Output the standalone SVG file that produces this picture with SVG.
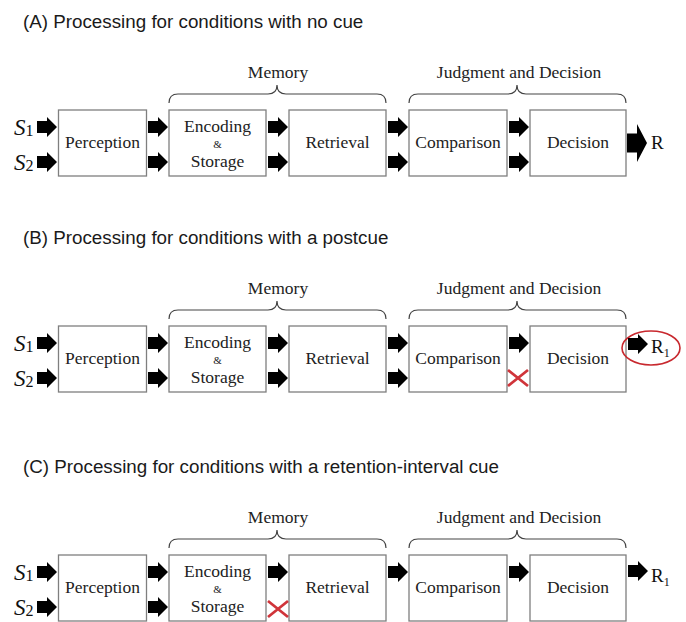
<svg xmlns="http://www.w3.org/2000/svg" width="686" height="622" viewBox="0 0 686 622">
<style>
.title{font-family:"Liberation Sans",Arial,sans-serif;font-size:18.8px;fill:#1a1a1a}
.lbl{font-family:"Liberation Serif","Times New Roman",serif;font-size:17.5px;fill:#222;text-anchor:middle}
.amp{font-family:"Liberation Serif","Times New Roman",serif;font-size:11px;fill:#222;text-anchor:middle}
.grp{font-family:"Liberation Serif","Times New Roman",serif;font-size:17.5px;fill:#222;text-anchor:middle}
.box{fill:#fff;stroke:#7f7f7f;stroke-width:1.3}
.brace{fill:none;stroke:#444;stroke-width:1.2}
.s{font-family:"Liberation Serif","Times New Roman",serif;font-size:23px;font-style:italic;fill:#111}
.sub{font-style:normal;font-size:16px}
.r{font-family:"Liberation Serif","Times New Roman",serif;font-size:19px;fill:#111}
.rsub{font-size:12px}
.x{stroke:#d0343a;stroke-width:2.8;fill:none}
.ring{fill:none;stroke:#c8282e;stroke-width:1.6}
</style>
<defs>
<path id="arr" d="M0,-6 H10 V-10 L20,0 L10,10 V6 H0 Z" fill="#000"/>
<path id="bigarr" d="M0,-9.5 H10 V-19 L20,0 L10,19 V9.5 H0 Z" fill="#000"/>
<path id="xmark" d="M0,0 L20,16 M20,0 L0,16"/>
</defs>

<!-- ===== Section A ===== -->
<text class="title" x="23" y="28">(A) Processing for conditions with no cue</text>
<g id="A-memory">
<path class="brace" d="M169,103 Q169,94 178,94 L268,94 Q277,94 277,85 Q277,94 286,94 L377,94 Q386,94 386,103"/>
<text class="grp" x="278" y="78">Memory</text>
</g>
<g id="A-judgment">
<path class="brace" d="M409,103 Q409,94 418,94 L508,94 Q517,94 517,85 Q517,94 526,94 L617,94 Q626,94 626,103"/>
<text class="grp" x="519" y="78">Judgment and Decision</text>
</g>
<g id="A-s1"><text class="s" x="14" y="135">S<tspan class="sub" dy="1">1</tspan></text></g>
<g id="A-s2"><text class="s" x="14" y="170">S<tspan class="sub" dy="1">2</tspan></text></g>
<g id="A-perception"><rect class="box" x="58.5" y="110" width="88" height="66"/><text class="lbl" x="102.5" y="148">Perception</text></g>
<g id="A-encoding"><rect class="box" x="169" y="110" width="97" height="66"/><text class="lbl" x="217.5" y="132">Encoding</text><text class="amp" x="217.5" y="148">&amp;</text><text class="lbl" x="217.5" y="167">Storage</text></g>
<g id="A-retrieval"><rect class="box" x="289" y="110" width="97" height="66"/><text class="lbl" x="337.5" y="148">Retrieval</text></g>
<g id="A-comparison"><rect class="box" x="409" y="110" width="98" height="66"/><text class="lbl" x="458" y="148">Comparison</text></g>
<g id="A-decision"><rect class="box" x="530" y="110" width="96" height="66"/><text class="lbl" x="578" y="148">Decision</text></g>
<g id="A-r"><text class="r" x="651" y="149">R</text></g>
<g id="A-connectors">
<use href="#arr" x="37" y="127"/><use href="#arr" x="37" y="162"/>
<use href="#arr" x="148" y="127"/><use href="#arr" x="148" y="162"/>
<use href="#arr" x="268" y="127"/><use href="#arr" x="268" y="162"/>
<use href="#arr" x="388" y="127"/><use href="#arr" x="388" y="162"/>
<use href="#arr" x="509" y="127"/><use href="#arr" x="509" y="162"/>
<use href="#bigarr" x="627" y="143"/>
</g>

<!-- ===== Section B ===== -->
<text class="title" x="23" y="244">(B) Processing for conditions with a postcue</text>
<g id="B-memory">
<path class="brace" d="M169,319 Q169,310 178,310 L268,310 Q277,310 277,301 Q277,310 286,310 L377,310 Q386,310 386,319"/>
<text class="grp" x="278" y="294">Memory</text>
</g>
<g id="B-judgment">
<path class="brace" d="M409,319 Q409,310 418,310 L508,310 Q517,310 517,301 Q517,310 526,310 L617,310 Q626,310 626,319"/>
<text class="grp" x="519" y="294">Judgment and Decision</text>
</g>
<g id="B-s1"><text class="s" x="14" y="351">S<tspan class="sub" dy="1">1</tspan></text></g>
<g id="B-s2"><text class="s" x="14" y="386">S<tspan class="sub" dy="1">2</tspan></text></g>
<g id="B-perception"><rect class="box" x="58.5" y="326" width="88" height="66"/><text class="lbl" x="102.5" y="364">Perception</text></g>
<g id="B-encoding"><rect class="box" x="169" y="326" width="97" height="66"/><text class="lbl" x="217.5" y="348">Encoding</text><text class="amp" x="217.5" y="364">&amp;</text><text class="lbl" x="217.5" y="383">Storage</text></g>
<g id="B-retrieval"><rect class="box" x="289" y="326" width="97" height="66"/><text class="lbl" x="337.5" y="364">Retrieval</text></g>
<g id="B-comparison"><rect class="box" x="409" y="326" width="98" height="66"/><text class="lbl" x="458" y="364">Comparison</text></g>
<g id="B-decision"><rect class="box" x="530" y="326" width="96" height="66"/><text class="lbl" x="578" y="364">Decision</text></g>
<g id="B-r"><ellipse class="ring" cx="651" cy="348" rx="29" ry="17"/><text class="r" x="651" y="353">R<tspan class="rsub" dy="4">1</tspan></text></g>
<g id="B-connectors">
<use href="#arr" x="37" y="343"/><use href="#arr" x="37" y="378"/>
<use href="#arr" x="148" y="343"/><use href="#arr" x="148" y="378"/>
<use href="#arr" x="268" y="343"/><use href="#arr" x="268" y="378"/>
<use href="#arr" x="388" y="343"/><use href="#arr" x="388" y="378"/>
<use href="#arr" x="509" y="343"/>
<use href="#xmark" class="x" x="508" y="370"/>
<use href="#arr" x="628" y="344"/>
</g>

<!-- ===== Section C ===== -->
<text class="title" x="23" y="473">(C) Processing for conditions with a retention-interval cue</text>
<g id="C-memory">
<path class="brace" d="M169,548 Q169,539 178,539 L268,539 Q277,539 277,530 Q277,539 286,539 L377,539 Q386,539 386,548"/>
<text class="grp" x="278" y="523">Memory</text>
</g>
<g id="C-judgment">
<path class="brace" d="M409,548 Q409,539 418,539 L508,539 Q517,539 517,530 Q517,539 526,539 L617,539 Q626,539 626,548"/>
<text class="grp" x="519" y="523">Judgment and Decision</text>
</g>
<g id="C-s1"><text class="s" x="14" y="580">S<tspan class="sub" dy="1">1</tspan></text></g>
<g id="C-s2"><text class="s" x="14" y="615">S<tspan class="sub" dy="1">2</tspan></text></g>
<g id="C-perception"><rect class="box" x="58.5" y="555" width="88" height="66"/><text class="lbl" x="102.5" y="593">Perception</text></g>
<g id="C-encoding"><rect class="box" x="169" y="555" width="97" height="66"/><text class="lbl" x="217.5" y="577">Encoding</text><text class="amp" x="217.5" y="593">&amp;</text><text class="lbl" x="217.5" y="612">Storage</text></g>
<g id="C-retrieval"><rect class="box" x="289" y="555" width="97" height="66"/><text class="lbl" x="337.5" y="593">Retrieval</text></g>
<g id="C-comparison"><rect class="box" x="409" y="555" width="98" height="66"/><text class="lbl" x="458" y="593">Comparison</text></g>
<g id="C-decision"><rect class="box" x="530" y="555" width="96" height="66"/><text class="lbl" x="578" y="593">Decision</text></g>
<g id="C-r"><text class="r" x="651" y="582">R<tspan class="rsub" dy="4">1</tspan></text></g>
<g id="C-connectors">
<use href="#arr" x="37" y="572"/><use href="#arr" x="37" y="607"/>
<use href="#arr" x="148" y="572"/><use href="#arr" x="148" y="607"/>
<use href="#arr" x="268" y="572"/>
<use href="#xmark" class="x" x="268" y="601"/>
<use href="#arr" x="388" y="572"/>
<use href="#arr" x="509" y="572"/>
<use href="#arr" x="628" y="571"/>
</g>
</svg>
